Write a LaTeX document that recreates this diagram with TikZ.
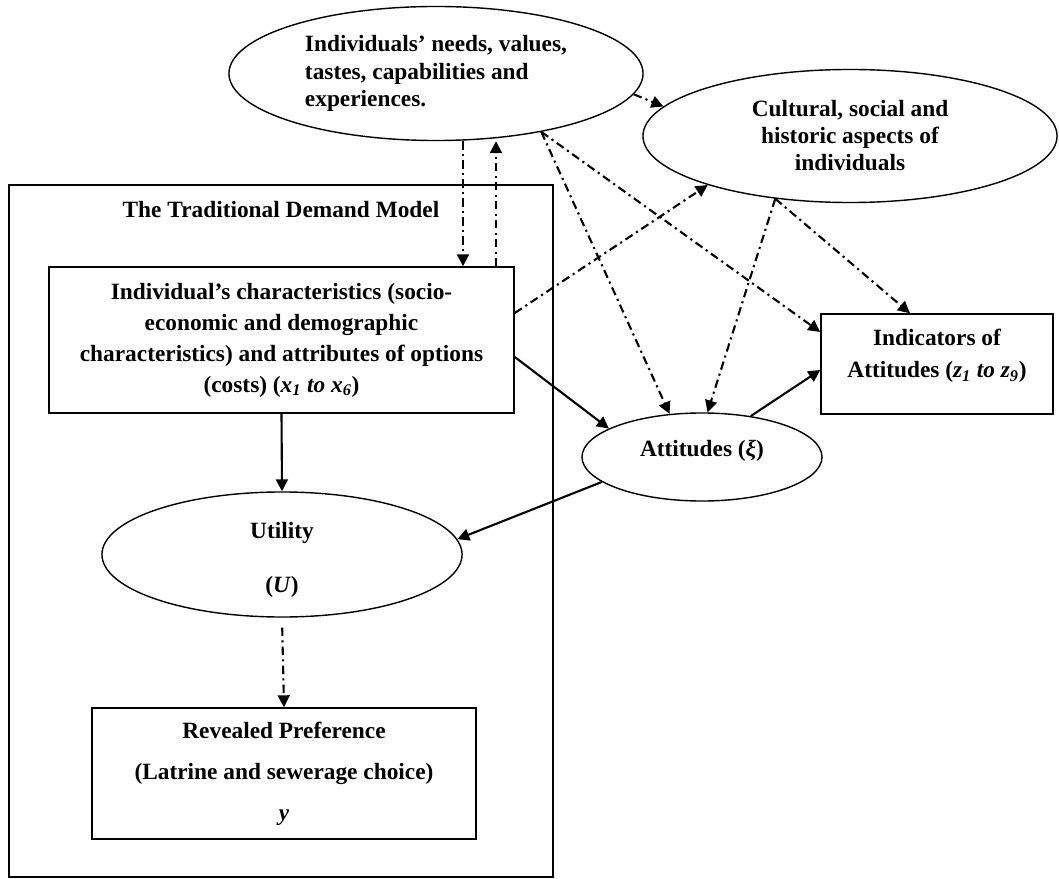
\documentclass[tikz,border=0pt]{standalone}
\usepackage{fontspec}
\setmainfont{Liberation Serif}
\usetikzlibrary{shapes.geometric,arrows.meta}

\tikzset{
  >={Triangle[length=8.5pt,width=8.5pt]},
  txt/.style={font=\fontsize{16.6}{#1}\selectfont\bfseries, align=center},
  bubble/.style={draw, ellipse, line width=1pt, inner sep=0pt},
  panel/.style={draw, rectangle, line width=1pt, inner sep=0pt},
  dashdot/.style={line width=1.5pt, dash pattern=on 6pt off 3pt on 1.5pt off 3pt},
  link/.style={line width=1.5pt}
}

\begin{document}
\begin{tikzpicture}[x=0.025cm, y=-0.025cm]
\useasboundingbox (0,0) rectangle (1059,879);

% the traditional demand model
\draw [line width=1pt] (9,185) rectangle (553,877);
\node [txt=20pt] (title) at (281,210) {The Traditional Demand Model};

\node [bubble, txt=19.6pt, align=left, minimum width=10.35cm, minimum height=3.35cm] (needs) at (436,73.5) {Individuals’ needs, values,\\ tastes, capabilities and\\ experiences.};
\node [bubble, txt=19.2pt, minimum width=10.35cm, minimum height=3.325cm] (culture) at (850,136) {Cultural, social and\\ historic aspects of\\ individuals};

\node [panel, txt=22pt, minimum width=11.625cm, minimum height=3.65cm] (traits) at (281.5,340) {Individual’s characteristics (socio-\\ economic and demographic\\ characteristics) and attributes of options\\ (costs) (\textit{x}\textsubscript{\textit{1}} \textit{to x}\textsubscript{\textit{6}})};
\node [panel, minimum width=5.8cm, minimum height=2.5cm] (ind) at (937,364) {};
\node [txt=22.8pt] (indtxt) at (937,356) {Indicators of\\ Attitudes (\textit{z}\textsubscript{\textit{1}} \textit{to z}\textsubscript{\textit{9}})};

\node [bubble, minimum width=6cm, minimum height=2.2cm] (att) at (702,457) {};
\node [txt=20pt] (atttxt) at (702,451) {Attitudes (\textit{ξ})};
\node [bubble, minimum width=9cm, minimum height=3.125cm] (util) at (282,554.5) {};
\node [txt=38.5pt] (utiltxt) at (282,560) {Utility\\ (\textit{U})};
\node [panel, txt=29.2pt, minimum width=9.6cm, minimum height=3.275cm] (pref) at (284,773.5) {Revealed Preference\\ (Latrine and sewerage choice)\\ \textit{y}};

% influences
\draw [dashdot, ->] (needs.south -| 463,0) -- (traits.north -| 463,0);
\draw [dashdot, ->] (traits.north -| 496,0) -- (needs.south -| 496,0);
\draw [dashdot, ->] (needs.-6) -- (culture.171);
\draw [dashdot, ->] (needs.-29) -- (att.127);
\draw [dashdot, ->] (needs.-29) -- ([yshift=0.8cm]ind.west);
\draw [dashdot, ->] ([yshift=0.675cm]traits.east) -- (culture.199);
\draw [dashdot, ->] (culture.-140) -- (att.83);
\draw [dashdot, ->] (culture.-140) -- ([xshift=-0.675cm]ind.north);

% model paths
\draw [link, ->] ([yshift=-0.425cm]traits.east) -- (att.163);
\draw [link, ->] (att.40) -- ([yshift=-0.15cm]ind.west);
\draw [link, ->] (att.194) -- (util.5);
\draw [link, ->] (traits.south) -- (util.north);
\draw [dashdot, ->, shorten <=0.25cm] (util.south) -- (pref.north);
\end{tikzpicture}
\end{document}
